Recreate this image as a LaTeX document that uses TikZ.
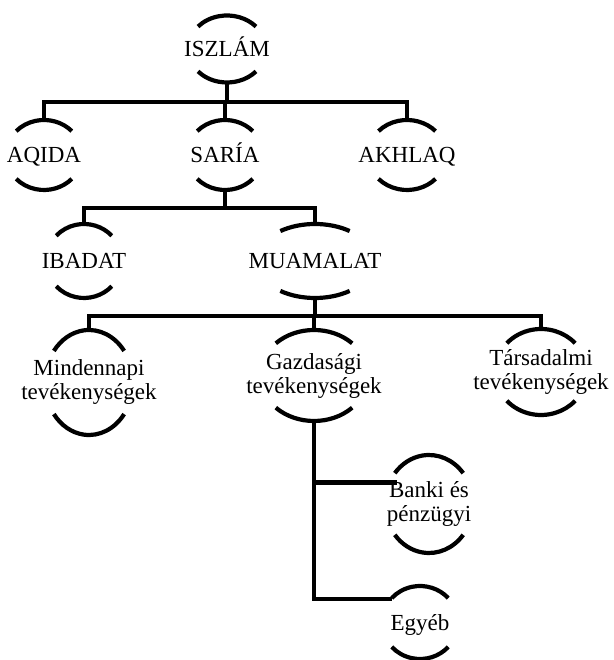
\documentclass[tikz,border=0pt]{standalone}
\usepackage{fontspec}
\setmainfont{Liberation Serif}
\usetikzlibrary{calc}
\tikzset{
	lbl/.style={font=\fontsize{23}{24}\selectfont, align=center, inner sep=0pt},
	oneline/.style={lbl, text height=15.2pt, text depth=0pt}
}
% upper and lower cap of an open ring round a node: node, x radius, y radius, angle
\newcommand{\ringcaps}[4]{%
	\draw ([shift={(#1.center)}]#4:#2pt and #3pt) arc[start angle=#4, end angle=180-#4, x radius=#2pt, y radius=#3pt];
	\draw ([shift={(#1.center)}]-#4:#2pt and #3pt) arc[start angle=-#4, end angle=-180+#4, x radius=#2pt, y radius=#3pt];
	\coordinate (#1-n) at ([shift={(#1.center)}]0,#3pt);
	\coordinate (#1-s) at ([shift={(#1.center)}]0,-#3pt);
}

\begin{document}
\begin{tikzpicture}[x=1pt, y=1pt, line width=4.2pt]
	\useasboundingbox (0,0) rectangle (613,660);

	\node[oneline] (iszlam) at (227,611) {ISZLÁM};
	\node[oneline] (aqida) at (44,505) {AQIDA};
	\node[oneline] (saria) at (225,505) {SARÍA};
	\node[oneline] (akhlaq) at (407,505) {AKHLAQ};
	\node[oneline] (ibadat) at (84,399) {IBADAT};
	\node[oneline] (muamalat) at (315,399) {MUAMALAT};
	\node[lbl] (mindennapi) at (89,277.5) {Mindennapi\\tevékenységek};
	\node[lbl] (gazdasagi) at (314,284.5) {Gazdasági\\tevékenységek};
	\node[lbl] (tarsadalmi) at (541,288) {Társadalmi\\tevékenységek};
	\node[lbl] (banki) at (429,156) {Banki és\\pénzügyi};
	\node[oneline] (egyeb) at (420,37.5) {Egyéb};

	\ringcaps{iszlam}{39}{33.5}{42}
	\ringcaps{aqida}{38}{35}{43}
	\ringcaps{saria}{38}{35}{43}
	\ringcaps{akhlaq}{39}{35}{43}
	\ringcaps{ibadat}{38}{37}{43}
	\ringcaps{muamalat}{59}{37}{54}
	\ringcaps{mindennapi}{44}{52.5}{37}
	\ringcaps{gazdasagi}{54}{45.5}{45}
	\ringcaps{tarsadalmi}{46}{43}{42}
	\ringcaps{banki}{44}{49}{39}
	\ringcaps{egyeb}{38}{36.5}{42}

	\draw (iszlam-s) -- ++(0,-19.5) coordinate (j1);
	\draw (aqida-n) |- (j1) -| (akhlaq-n);
	\draw (saria-n) -- (saria-n |- j1);

	\draw (saria-s) -- ++(0,-18) coordinate (j2);
	\draw (ibadat-n) |- (j2) -| (muamalat-n);

	\draw (muamalat-s) -- ++(0,-18) coordinate (j3);
	\draw (mindennapi-n) |- (j3) -| (tarsadalmi-n);
	\draw (gazdasagi-n) -- (gazdasagi-n |- j3);

	\coordinate (bankiin) at ($(banki.center)+(-32,21.5)$);
	\coordinate (egyebin) at ($(egyeb.center)+(-28,23.5)$);
	\draw (gazdasagi-s) |- (egyebin);
	\draw (gazdasagi-s |- bankiin) -- (bankiin);
\end{tikzpicture}
\end{document}
